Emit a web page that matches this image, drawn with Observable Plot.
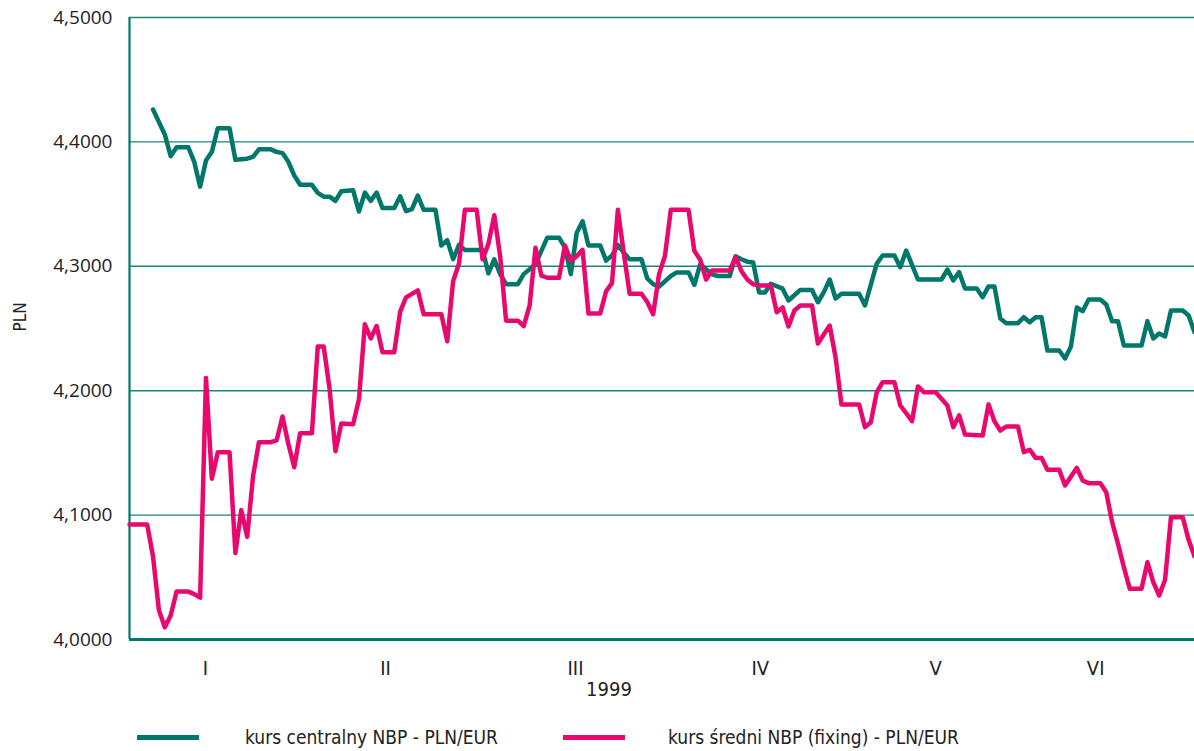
<!DOCTYPE html>
<html><head><meta charset="utf-8">
<script src="https://cdn.jsdelivr.net/npm/d3@7"></script>
<script src="https://cdn.jsdelivr.net/npm/@observablehq/plot@0.6"></script>
<style>
body{margin:0;background:#fff;}
#chart svg{display:block;}
#legend{position:relative;width:1194px;height:39px;font-family:"Liberation Sans Narrow","DejaVu Sans Condensed",sans-serif;font-size:19px;color:#222;}
#legend .sw{position:absolute;top:23px;height:5px;}
#legend .tx{position:absolute;top:13px;line-height:24px;white-space:nowrap;}
</style></head><body><div id="chart"></div><div id="legend"></div>
<script>
// --- data (day of 1999 first half, value PLN/EUR) ---
const centralDays = [4,6,7,8,10,11,12,13,14,15,17,18,20,21,22,24,25,26,27,28,29,31,32,33,34,35,36,38,39,40,41,42,43,45,46,47,48,49,50,52,53,54,55,56,57,60,61,62,63,64,66,67,69,70,71,73,74,75,76,77,78,80,81,82,83,84,85,87,88,89,90,92,93,95,96,97,99,100,102,103,104,105,106,107,108,109,111,112,114,116,117,118,119,120,121,124,125,127,128,130,131,132,134,138,139,140,141,142,144,145,146,147,148,149,151,152,153,154,155,156,158,159,160,161,162,163,165,166,167,168,169,172,173,174,175,176,177,179,180,181];
const centralValues = [4.426,4.406,4.3885,4.3957,4.3957,4.384,4.364,4.385,4.392,4.411,4.411,4.3856,4.3865,4.388,4.394,4.394,4.392,4.391,4.384,4.373,4.3655,4.3655,4.359,4.356,4.356,4.3526,4.3603,4.3612,4.344,4.3592,4.3526,4.3592,4.3468,4.3468,4.3563,4.3443,4.346,4.3569,4.3454,4.3454,4.3167,4.321,4.3057,4.3172,4.3132,4.3132,4.2943,4.3057,4.2937,4.2856,4.2856,4.2937,4.3017,4.3124,4.323,4.323,4.3152,4.2937,4.3267,4.3362,4.3167,4.3167,4.3046,4.3086,4.3172,4.3109,4.3057,4.3057,4.2902,4.2856,4.2836,4.2922,4.2951,4.2951,4.2851,4.3017,4.2935,4.2922,4.2922,4.308,4.3057,4.3037,4.303,4.279,4.279,4.286,4.282,4.2725,4.281,4.281,4.2711,4.2792,4.2894,4.2741,4.278,4.278,4.2685,4.3022,4.3087,4.3087,4.2993,4.3127,4.2894,4.2894,4.2974,4.2886,4.2953,4.2822,4.2822,4.2752,4.2838,4.2838,4.258,4.2543,4.2543,4.2591,4.255,4.2591,4.2591,4.2323,4.2323,4.2259,4.2355,4.2669,4.2639,4.2733,4.2733,4.2693,4.2559,4.2559,4.2363,4.2363,4.2559,4.242,4.246,4.2436,4.2645,4.2645,4.2604,4.247];
const fixingDays = [0,3,4,5,6,7,8,10,11,12,13,14,15,17,18,19,20,21,22,24,25,26,27,28,29,31,32,33,34,35,36,38,39,40,41,42,43,45,46,47,49,50,53,54,55,56,57,59,60,61,62,63,64,66,67,68,69,70,71,73,74,75,76,77,78,80,81,82,83,84,85,87,88,89,90,91,92,95,96,97,98,99,102,103,104,105,106,107,109,110,111,112,113,114,116,117,119,120,121,124,125,126,127,128,130,131,132,133,134,135,137,138,139,140,141,142,145,146,147,148,149,151,152,153,154,155,156,158,159,161,162,163,165,166,167,168,169,170,172,173,174,175,176,177,179,180,181];
const fixingValues = [4.0925,4.0925,4.0667,4.0236,4.0098,4.0193,4.0385,4.0385,4.0365,4.0336,4.2103,4.1293,4.1506,4.1506,4.0695,4.104,4.0825,4.1313,4.1586,4.1586,4.16,4.1793,4.1572,4.1385,4.1658,4.1658,4.2356,4.2356,4.2017,4.1514,4.1736,4.173,4.1931,4.2534,4.242,4.252,4.231,4.231,4.2635,4.275,4.2807,4.2615,4.2615,4.2397,4.288,4.3023,4.3454,4.3454,4.3057,4.318,4.341,4.308,4.2563,4.2563,4.252,4.2684,4.3149,4.2925,4.2908,4.2908,4.3167,4.3046,4.308,4.3132,4.2621,4.2621,4.2799,4.2865,4.3454,4.3109,4.2779,4.2779,4.2713,4.2615,4.2937,4.3083,4.3454,4.3454,4.3124,4.3052,4.2894,4.2966,4.2966,4.3075,4.2962,4.2894,4.2856,4.2846,4.2846,4.2631,4.2669,4.2516,4.2645,4.2685,4.2685,4.2379,4.2524,4.2269,4.189,4.189,4.1707,4.1747,4.1988,4.2068,4.2068,4.1881,4.1819,4.1755,4.2034,4.1988,4.1988,4.1935,4.1881,4.1707,4.1801,4.1648,4.164,4.189,4.1755,4.168,4.1712,4.1712,4.1506,4.1525,4.146,4.146,4.1364,4.1364,4.1238,4.138,4.1278,4.1257,4.1257,4.1184,4.0943,4.0769,4.0581,4.0407,4.0407,4.0621,4.046,4.0354,4.048,4.0983,4.0983,4.0801,4.0667];
const monthLabels = ["I","II","III","IV","V","VI"];
const monthPositions = [12.9,43.5,75.8,107.2,137.0,164.2];
const yTicks = [4.0,4.1,4.2,4.3,4.4,4.5];
const seriesNames = ["kurs centralny NBP - PLN/EUR","kurs średni NBP (fixing) - PLN/EUR"];
const yLabel = "PLN";
const xLabel = "1999";

const teal = "#00776b", pink = "#e8086e";
const central = centralDays.map((d,i)=>({day:d, value:centralValues[i]}));
const fixing = fixingDays.map((d,i)=>({day:d, value:fixingValues[i]}));
const fmt = d => d.toFixed(4).replace(".", ",");
const narrow = '"Liberation Sans Narrow","DejaVu Sans Condensed",sans-serif';

const chart = Plot.plot({
  width:1194, height:712,
  marginTop:17, marginBottom:73, marginLeft:129, marginRight:0,
  x:{domain:[0,181]},
  y:{domain:[4,4.5]},
  style:{fontFamily:'"Open Sans",sans-serif', background:"#fff", color:"#222"},
  marks:[
    Plot.gridY(yTicks, {stroke:teal, strokeOpacity:0.9, strokeWidth:1.4}),
    Plot.axisY(yTicks, {tickSize:0, tickPadding:17, tickFormat:fmt, fontSize:19, label:null}),
    Plot.axisX(monthPositions, {tickSize:0, tickPadding:21, fontSize:20, fontFamily:narrow,
      tickFormat:d=>monthLabels[monthPositions.indexOf(d)], label:null}),
    Plot.text([xLabel], {frameAnchor:"bottom", dx:-53, dy:56, fontSize:20, fontFamily:narrow, fill:"#222"}),
    Plot.text([yLabel], {frameAnchor:"left", dx:-109, dy:3, rotate:-90, fontSize:17, fontFamily:narrow, fill:"#222"}),
    Plot.ruleX([0], {stroke:teal, strokeWidth:2.2}),
    Plot.ruleY([4], {stroke:teal, strokeWidth:3}),
    Plot.line(central, {x:"day", y:"value", stroke:teal, strokeWidth:4.5, strokeLinejoin:"round", strokeLinecap:"round"}),
    Plot.line(fixing, {x:"day", y:"value", stroke:pink, strokeWidth:4.5, strokeLinejoin:"round", strokeLinecap:"round"})
  ]
});
document.getElementById("chart").appendChild(chart);

const lg = document.getElementById("legend");
const items = [{c:teal, sw:137, tx:245},{c:pink, sw:563, tx:668}];
items.forEach((it,i)=>{
  const s=document.createElement("div"); s.className="sw"; s.style.left=it.sw+"px"; s.style.width="62px"; s.style.background=it.c; lg.appendChild(s);
  const t=document.createElement("div"); t.className="tx"; t.style.left=it.tx+"px"; t.textContent=seriesNames[i]; lg.appendChild(t);
});
</script></body></html>
